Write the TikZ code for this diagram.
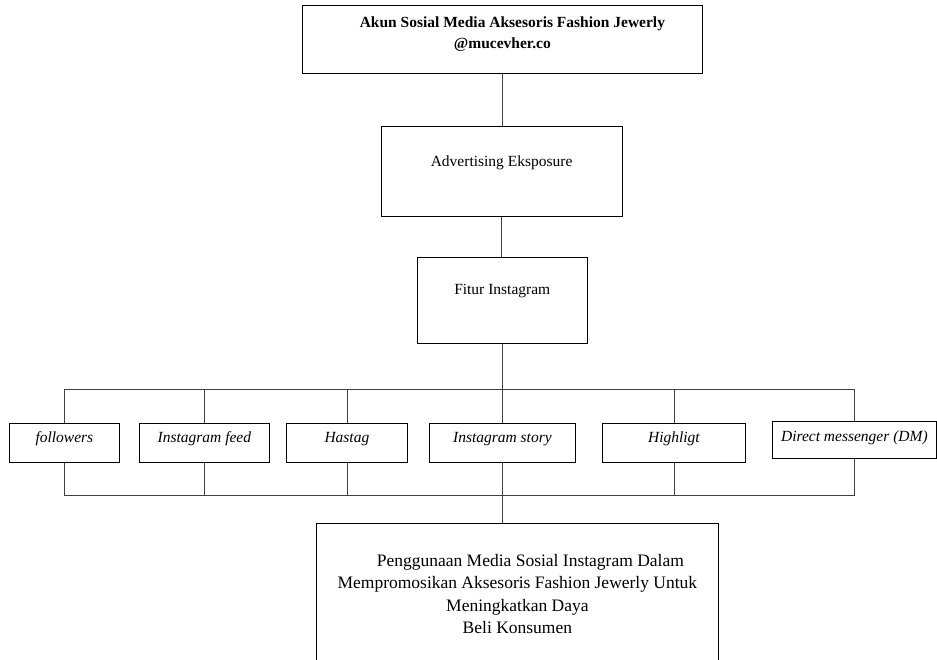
\documentclass[tikz,border=0pt]{standalone}
\usepackage{fontspec}
\setmainfont{Liberation Serif}
\usetikzlibrary{positioning}

\begin{document}
\begin{tikzpicture}[
        x=1pt, y=-1pt,
        box/.style={draw, line width=0.8pt, inner sep=0pt, anchor=north west, align=center,
                    font=\fontsize{15.5}{21}\selectfont},
        item/.style={box, font=\fontsize{15.5}{21}\selectfont\itshape,
                     text height=19pt, text depth=20pt},
        link/.style={line width=0.7pt, draw=black!75},
    ]
        \useasboundingbox (0,0) rectangle (937,659);

        \node[box, minimum width=400pt, text height=43pt, text depth=24.7pt,
              font=\fontsize{15.5}{21}\selectfont\bfseries] (akun) at (302,5)
            {\hspace*{20pt}Akun Sosial Media Aksesoris Fashion Jewerly\\@mucevher.co};
        \node[box, minimum width=241pt, text height=39.7pt, text depth=50.3pt] (adv) at (380.7,126)
            {Advertising Eksposure};
        \node[box, minimum width=170.3pt, text height=37pt, text depth=48.7pt] (fitur) at (416.7,257)
            {Fitur Instagram};

        \node[item, minimum width=110pt] (fol)   at (9,423)   {followers};
        \node[item, minimum width=130pt] (feed)  at (139,423) {Instagram feed};
        \node[item, minimum width=121pt] (tag)   at (286,423) {Hastag};
        \node[item, minimum width=146pt] (story) at (429,423) {Instagram story};
        \node[item, minimum width=143pt] (high)  at (602,423) {Highligt};
        \node[item, minimum width=164pt, text height=20.3pt, text depth=16.7pt] (dm) at (772,420.7)
            {Direct messenger (DM)};

        \node[box, minimum width=402pt, text height=110.8pt, text depth=50pt,
              font=\fontsize{17.5}{22.5}\selectfont] (hasil) at (316,522.7)
            {\hspace*{26pt}Penggunaan Media Sosial Instagram Dalam\\
             Mempromosikan Aksesoris Fashion Jewerly Untuk\\Meningkatkan Daya\\Beli Konsumen};

        \coordinate (busT) at (502,389.3);
        \coordinate (busB) at (502,495);

        \draw[link] (akun.south) -- (akun.south |- adv.north);
        \draw[link] (adv.south) -- (adv.south |- fitur.north);
        \draw[link] (fitur.south) -- (fitur.south |- busT);
        \draw[link] (fol.north)   |- (busT);
        \draw[link] (feed.north)  |- (busT);
        \draw[link] (tag.north)   |- (busT);
        \draw[link] (story.north) |- (busT);
        \draw[link] (high.north)  |- (busT);
        \draw[link] (dm.north)    |- (busT);
        \draw[link] (fol.south)   |- (busB);
        \draw[link] (feed.south)  |- (busB);
        \draw[link] (tag.south)   |- (busB);
        \draw[link] (story.south) |- (busB);
        \draw[link] (high.south)  |- (busB);
        \draw[link] (dm.south)    |- (busB);
        \draw[link] (busB) -- (busB |- hasil.north);
    \end{tikzpicture}
\end{document}
